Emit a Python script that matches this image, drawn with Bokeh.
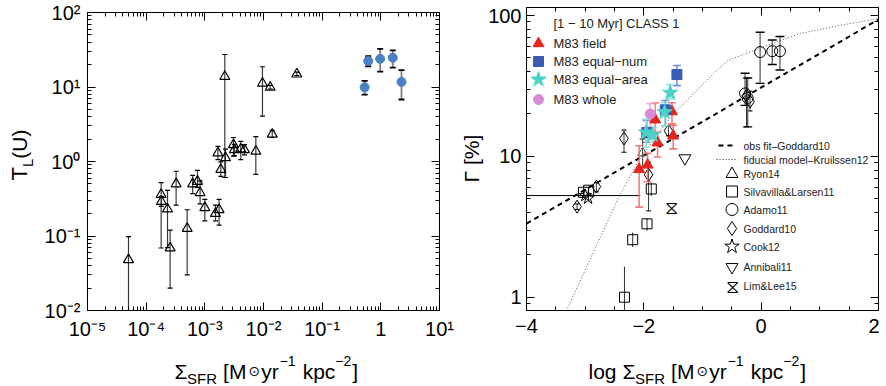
import math
from bokeh.plotting import figure
from bokeh.layouts import row, column
from bokeh.models import (LogAxis, LinearAxis, LogTicker, SingleIntervalTicker, Range1d,
                          LinearScale, Label, BasicTickFormatter)
from bokeh.embed import file_html
from bokeh.resources import INLINE
from bokeh.core.properties import value

# ---------------- data: left panel (T_L(U) vs Sigma_SFR) ----------------
ryon_sfr = [5.0e-5, 1.80e-4, 1.82e-4, 2.31e-4, 2.56e-4, 3.24e-4, 5.0e-4, 6.2e-4, 7.5e-4, 8.3e-4,
            1.0e-3, 1.52e-3, 1.75e-3, 1.67e-3, 1.87e-3, 2.19e-3, 2.25e-3, 3.08e-3, 3.2e-3, 4.1e-3,
            4.74e-3, 7.4e-3, 9.6e-3, 1.3e-2, 1.41e-2, 3.7e-2]
ryon_tl = [0.048, 0.36, 0.29, 0.23, 0.069, 0.50, 0.126, 0.50, 0.54, 0.38,
           0.24, 0.20, 0.225, 1.30, 0.78, 13.8, 1.12, 1.68, 1.44, 1.47,
           1.44, 1.37, 11.2, 9.9, 2.32, 14.9]
ryon_lo = [0.005, 0.069, 0.25, 0.07, 0.02, 0.26, 0.03, 0.37, 0.45, 0.27,
           0.16, 0.16, 0.14, 1.06, 0.63, 0.61, 0.61, 1.18, 1.2, 1.06,
           1.23, 0.67, 4.06, 9.4, 2.1, 14.2]
ryon_hi = [0.098, 0.52, 0.34, 0.41, 0.12, 0.74, 0.225, 0.65, 0.76, 0.55,
           0.31, 0.26, 0.31, 1.6, 0.99, 27.3, 1.47, 2.1, 1.7, 1.86,
           1.68, 2.16, 18.7, 10.5, 2.6, 15.8]

m83_sfr = [0.53, 0.61, 0.975, 1.6, 2.25]
m83_tl = [9.9, 22.3, 23.9, 24.7, 11.7]
m83_lo = [7.9, 19.0, 16.1, 18.2, 6.8]
m83_hi = [12.1, 25.9, 32.4, 31.1, 16.8]

left_x_ticks = [1e-5, 1e-4, 1e-3, 1e-2, 1e-1, 1, 10]
left_x_labels = ["10\u207b\u2075", "10\u207b\u2074", "10\u207b\u00b3", "10\u207b\u00b2",
                 "10\u207b\u00b9", "1", "10\u00b9"]
left_y_ticks = [1e-2, 1e-1, 1, 10, 100]
left_y_labels = ["10\u207b\u00b2", "10\u207b\u00b9", "10\u2070", "10\u00b9", "10\u00b2"]

# ---------------- data: right panel (Gamma vs log Sigma_SFR) ----------------
fit_x = [-4.0, 2.0]
fit_y = [3.33, 93.7]
model_x = [-3.32, -2.43, -2.06, -1.50, -0.70, -0.56, 0.0, 0.66, 1.34, 1.90, 1.98]
model_y = [0.80, 5.1, 9.8, 20.0, 43.0, 48.0, 59.0, 74.5, 85.0, 93.7, 94.5]

ryon14_x = [-2.02]
ryon14_y = [10.6]
ryon14_lo = [8.4]
ryon14_hi = [13.3]

silva_x = [-3.03, -2.94, -2.33, -2.19, -1.946, -1.873]
silva_y = [5.56, 5.75, 1.0, 2.56, 3.32, 5.87]
silva_lo = [5.3, 5.5, 0.6, 2.3, 3.0, 5.3]
silva_hi = [5.8, 6.0, 1.63, 2.85, 3.6, 6.4]

adamo_x = [-0.018, 0.19, 0.32, -0.274, -0.23]
adamo_y = [55.0, 55.8, 55.8, 28.0, 26.0]
adamo_lo = [33.0, 44.9, 41.0, 23.0, 16.2]
adamo_hi = [76.0, 67.0, 71.0, 38.9, 36.0]

goddard_x = [-3.138, -2.809, -2.338, -1.919, -1.58, -0.25, -0.19]
goddard_y = [4.4, 6.1, 13.4, 7.4, 15.2, 27.0, 24.5]
goddard_lo = [4.2, 5.6, 10.7, 4.1, 14.0, 16.2, 21.0]
goddard_hi = [4.6, 6.5, 15.4, 9.1, 16.5, 36.0, 29.0]

cook_x = [-2.996, -2.95]
cook_y = [5.27, 5.05]
cook_xlo = [-4.3, -2.95]
cook_xhi = [-2.06, -2.95]

annibali_x = [-1.30]
annibali_y = [9.7]

limlee_x = [-1.52]
limlee_y = [4.4]

field_x = [-2.08, -1.936, -1.805, -1.766, -1.50, -1.52]
field_y = [8.1, 8.7, 18.2, 12.5, 14.0, 20.8]
field_lo = [4.36, 6.6, 13.3, 9.9, 11.3, 17.0]
field_hi = [11.9, 10.5, 23.9, 14.9, 16.6, 24.0]

eqnum_x = [-1.436, -1.635, -1.95]
eqnum_y = [38.1, 21.4, 14.8]
eqnum_lo = [31.8, 16.5, 12.6]
eqnum_hi = [44.2, 24.9, 18.0]

eqarea_x = [-1.55, -1.645, -1.96, -1.85]
eqarea_y = [28.3, 20.6, 14.8, 14.2]
eqarea_lo = [25.6, 16.5, 11.6, 12.6]
eqarea_hi = [32.3, 24.0, 18.4, 16.0]

whole_x = [-1.89]
whole_y = [20.0]
whole_lo = [16.0]
whole_hi = [23.7]

right_x_ticks = [-4, -2, 0, 2]
right_x_labels = ["\u22124", "\u22122", "0", "2"]

legend_title = "[1 \u2212 10 Myr] CLASS 1"
legend_top = ["M83 field", "M83 equal\u2212num", "M83 equal\u2212area", "M83 whole"]
legend_bottom = ["obs fit\u2013Goddard10", "fiducial model\u2013Kruilssen12", "Ryon14",
                 "Silvavilla&Larsen11", "Adamo11", "Goddard10", "Cook12", "Annibali11", "Lim&Lee15"]

# ---------------- styling helpers ----------------
FONT = "Liberation Sans"
RED, BLUE, TURQ, PINK = "#e5261c", "#3b5cb5", "#4bd2c8", "#d98bd6"
LBLUE = "#4a80c4"

CW = {' ': .278, '[': .278, ']': .278, 'M': .833, 'y': .5, 'r': .333, 'k': .5, 'p': .556,
      'c': .5, '\u03a3': .6, 'S': .667, 'F': .611, 'R': .722, '\u2212': .584, '1': .556,
      '2': .556, 'l': .222, 'o': .556, 'g': .556, 'T': .611, 'L': .556, '(': .333,
      'U': .722, ')': .333, '\u0393': .556, '%': .889, '\u2299': .84}


def tw(s, size):
    return sum(CW.get(c, .6) for c in s) * size


def style_axis(ax, size="20px", standoff=8):
    ax.major_label_text_font = FONT
    ax.major_label_text_font_size = size
    ax.major_label_text_color = "black"
    ax.major_label_standoff = standoff
    ax.major_tick_in = 8
    ax.major_tick_out = 0
    ax.minor_tick_in = 4
    ax.minor_tick_out = 0
    ax.axis_line_color = "black"
    ax.major_tick_line_color = "black"
    ax.minor_tick_line_color = "black"
    ax.axis_label = None


def blank_axis(ax):
    style_axis(ax, "0px", 0)
    ax.major_label_text_color = None


def errbars(p, x, lo, hi, color, cap_color=None, cap=6, width=1.0, alpha=1.0):
    p.segment(x0=x, y0=lo, x1=x, y1=hi, line_color=color, line_width=width, line_alpha=alpha)
    for yy in (lo, hi):
        p.scatter(x=x, y=yy, marker="dash", size=cap, line_color=cap_color or color,
                  line_width=width, line_alpha=alpha)


def base_fig(top=7, **kw):
    p = figure(output_backend="svg", toolbar_location=None, height=348,
               min_border_top=top, min_border_bottom=38, **kw)
    p.grid.visible = False
    p.outline_line_color = "black"
    p.outline_line_width = 1
    p.background_fill_color = "white"
    p.border_fill_color = "white"
    return p


def strip(width, height, x_range):
    """Text-only strip; its x range matches the frame it gets aligned to."""
    s = figure(width=width, height=height, x_range=Range1d(*x_range),
               y_range=Range1d(0, height), output_backend="svg", toolbar_location=None,
               min_border=0, x_axis_location=None, y_axis_location=None)
    s.grid.visible = False
    s.outline_line_color = None
    s.background_fill_color = "white"
    s.border_fill_color = "white"
    return s


def compose(s, pieces, x0, y0, rotated=False):
    """pieces: (text, size, middle-line shift, font, gap before)"""
    pos = 0.0
    for text, size, shift, font, gap in pieces:
        pos += gap
        if rotated:
            x, y, ang = x0 + shift, y0 + pos, math.pi / 2
        else:
            x, y, ang = x0 + pos, y0 + shift, 0.0
        s.text(x=[x], y=[y], text=[text], angle=ang, text_font=value(font),
               text_font_size=value(f"{size}px"), text_align="left",
               text_baseline="middle", text_color="black")
        pos += tw(text, size)


def sigma_pieces():
    return [("\u03a3", 21, 0, FONT, 0), ("SFR", 15, -6.5, FONT, 0), ("[M", 21, 0, FONT, 6),
            ("\u2299", 14, 1, "DejaVu Sans", 2), ("yr", 21, 0, FONT, 1),
            ("\u22121", 14, 11, FONT, 1), ("kpc", 21, 0, FONT, 7),
            ("\u22122", 14, 11, FONT, 0), ("]", 21, 0, FONT, 1)]


# ---------------- left panel ----------------
P1_LEFT, P1_RIGHT, P1_W = 49, 15, 416
p1 = base_fig(top=12, width=P1_W, x_axis_type="log", y_axis_type="log",
              x_range=Range1d(1e-5, 10), y_range=Range1d(1e-2, 100),
              min_border_left=P1_LEFT, min_border_right=P1_RIGHT)
style_axis(p1.xaxis[0], standoff=7)
style_axis(p1.yaxis[0], standoff=7)
p1.xaxis[0].ticker = LogTicker(num_minor_ticks=10)
p1.yaxis[0].ticker = LogTicker(num_minor_ticks=10)
p1.xaxis[0].major_label_overrides = dict(zip(left_x_ticks, left_x_labels))
p1.yaxis[0].major_label_overrides = dict(zip(left_y_ticks, left_y_labels))
ax_top = LogAxis(ticker=LogTicker(num_minor_ticks=10))
blank_axis(ax_top)
p1.add_layout(ax_top, "above")
ax_right = LogAxis(ticker=LogTicker(num_minor_ticks=10))
blank_axis(ax_right)
p1.add_layout(ax_right, "right")

errbars(p1, ryon_sfr, ryon_lo, ryon_hi, "#3a3a3a", "black", cap=5, width=1.2)
p1.scatter(ryon_sfr, ryon_tl, marker="triangle", size=10, line_color="black",
           fill_color=None, line_width=1.2)
errbars(p1, m83_sfr, m83_lo, m83_hi, "#808080", "black", cap=6, width=1.8)
p1.scatter(m83_sfr, m83_tl, marker="circle", size=9, line_color=LBLUE, fill_color=LBLUE)

# label strips for the left panel (local pixel coordinates)
ylab1 = strip(38, 386, (0, 38))
compose(ylab1, [("T", 22, 0, FONT, 0), ("L", 15, 7.5, FONT, 0), ("(U)", 21, 0, FONT, 0)],
        19.3, 206, rotated=True)
xlab1 = strip(P1_W, 38, (P1_LEFT, P1_W - P1_RIGHT))
compose(xlab1, sigma_pieces(), 136, 15)

# ---------------- right panel ----------------
P2_LEFT, P2_RIGHT, P2_W = 41, 1, 394
p2 = base_fig(top=7, width=P2_W, y_axis_type="log", x_range=Range1d(-4, 2),
              y_range=Range1d(0.805, 114), min_border_left=P2_LEFT, min_border_right=P2_RIGHT)
style_axis(p2.xaxis[0], standoff=8)
style_axis(p2.yaxis[0], standoff=5)
p2.xaxis[0].ticker = SingleIntervalTicker(interval=2, num_minor_ticks=4)
p2.xaxis[0].major_label_overrides = dict(zip(right_x_ticks, right_x_labels))
p2.yaxis[0].ticker = LogTicker(num_minor_ticks=10)
p2.yaxis[0].formatter = BasicTickFormatter(use_scientific=False)
ax2_top = LinearAxis(ticker=SingleIntervalTicker(interval=2, num_minor_ticks=4))
blank_axis(ax2_top)
p2.add_layout(ax2_top, "above")
ax2_right = LogAxis(ticker=LogTicker(num_minor_ticks=10))
blank_axis(ax2_right)
p2.add_layout(ax2_right, "right")

# pixel-space ranges for the legend swatches (origin at frame top-left)
p2.extra_x_ranges = {"px": Range1d(0, 352)}
p2.extra_x_scales = {"px": LinearScale()}
p2.extra_y_ranges = {"py": Range1d(303, 0)}
p2.extra_y_scales = {"py": LinearScale()}

# model curves
p2.line(model_x, model_y, line_color="#555555", line_width=1, line_dash="1 2")
p2.line(fit_x, fit_y, line_color="black", line_width=2, line_dash="5 4")

# literature data (open black symbols)
p2.segment(x0=cook_xlo, y0=cook_y, x1=cook_xhi, y1=cook_y, line_color="black", line_width=1)
errbars(p2, goddard_x, goddard_lo, goddard_hi, "#333333", "black", cap=5)
errbars(p2, silva_x, silva_lo, silva_hi, "#333333", "black", cap=1)
errbars(p2, adamo_x, adamo_lo, adamo_hi, "#666666", "black", cap=9, width=1.4)
errbars(p2, ryon14_x, ryon14_lo, ryon14_hi, "#333333", "black", cap=6)
OPEN = dict(line_color="black", fill_color=None, line_width=1)
p2.scatter(goddard_x, goddard_y, marker="diamond", size=13, **OPEN)
p2.scatter(silva_x, silva_y, marker="square", size=10, **OPEN)
p2.scatter(adamo_x, adamo_y, marker="circle", size=11, **OPEN)
p2.scatter(ryon14_x, ryon14_y, marker="triangle", size=10, line_color="#555555",
           fill_color=None, line_width=1)
p2.scatter(cook_x, cook_y, marker="star", size=13, **OPEN)
p2.scatter(annibali_x, annibali_y, marker="inverted_triangle", size=12, **OPEN)
p2.text(limlee_x, limlee_y, text=["\u29d6"] * len(limlee_x), text_font=value("DejaVu Sans"),
        text_font_size=value("19px"), text_align="center", text_baseline="middle",
        text_color="black")

# M83 data
errbars(p2, field_x, field_lo, field_hi, "#f26a60", None, cap=8, width=1.6, alpha=0.85)
errbars(p2, eqnum_x, eqnum_lo, eqnum_hi, "#5a7fd2", None, cap=8, width=1.6, alpha=0.85)
errbars(p2, eqarea_x, eqarea_lo, eqarea_hi, "#8be0da", None, cap=8, width=1.6, alpha=0.9)
errbars(p2, whole_x, whole_lo, whole_hi, "#e2a3e0", None, cap=8, width=1.6, alpha=0.9)
p2.scatter(field_x, field_y, marker="triangle", size=11, line_color=RED, fill_color=RED)
p2.scatter(eqnum_x, eqnum_y, marker="square", size=10, line_color=BLUE, fill_color=BLUE)
p2.scatter(eqarea_x, eqarea_y, marker="star", size=16, line_color=TURQ, fill_color=TURQ)
p2.scatter(whole_x, whole_y, marker="circle", size=10, line_color=PINK, fill_color=PINK)

# ---- upper legend ----
PX = dict(x_range_name="px", y_range_name="py")
top_rows_y = [36, 54, 72, 92]
top_marks = [("triangle", 11, RED), ("square", 10, BLUE), ("star", 16, TURQ), ("circle", 10, PINK)]
for yy, (mk, sz, col) in zip(top_rows_y, top_marks):
    p2.scatter([12], [yy], marker=mk, size=sz, line_color=col, fill_color=col, **PX)


def label(p, x, y, text, size, color="black"):
    p.add_layout(Label(x=x, y=y, x_units="screen", y_units="screen", text=text,
                       text_font=FONT, text_font_size=f"{size}px", text_align="left",
                       text_baseline="middle", text_color=color))


label(p2, 27, 287, legend_title, 13, "#222222")
for yy, t in zip(top_rows_y, legend_top):
    label(p2, 27, 303 - yy, t, 13, "#222222")

# ---- lower legend ----
bot_rows_y = [138, 152, 166.5, 184, 202, 221, 239, 259.5, 278]
p2.line([192, 209], [bot_rows_y[0]] * 2, line_color="black", line_width=2, line_dash="5 4", **PX)
p2.line([190, 209], [bot_rows_y[1]] * 2, line_color="#333333", line_width=1, line_dash="1 2", **PX)
bot_marks = [("triangle", 12), ("square", 11), ("circle", 12), ("diamond", 14), ("star", 15),
             ("inverted_triangle", 12)]
for yy, (mk, sz) in zip(bot_rows_y[2:8], bot_marks):
    p2.scatter([205.5], [yy], marker=mk, size=sz, line_color="black", fill_color=None,
               line_width=1, **PX)
p2.text([205.5], [bot_rows_y[8]], text=["\u29d6"], text_font=value("DejaVu Sans"),
        text_font_size=value("19px"), text_align="center", text_baseline="middle",
        text_color="black", **PX)
for yy, t in zip(bot_rows_y, legend_bottom):
    label(p2, 217, 303 - yy, t, 10.5, "#222222")

# label strips for the right panel (local pixel coordinates)
ylab2 = strip(31, 386, (0, 31))
compose(ylab2, [("\u0393 [%]", 21, 0, FONT, 0)], 17, 204, rotated=True)
xlab2 = strip(P2_W, 38, (P2_LEFT, P2_W - P2_RIGHT))
compose(xlab2, [("log", 21, 0, FONT, 0)] + [
    (t, s, sh, f, g + (6 if i == 0 else 0)) for i, (t, s, sh, f, g) in enumerate(sigma_pieces())],
    103, 15)

layout = row(row(ylab1, column(p1, xlab1)), row(ylab2, column(p2, xlab2)))
open("out.html", "w").write(file_html(layout, INLINE))
